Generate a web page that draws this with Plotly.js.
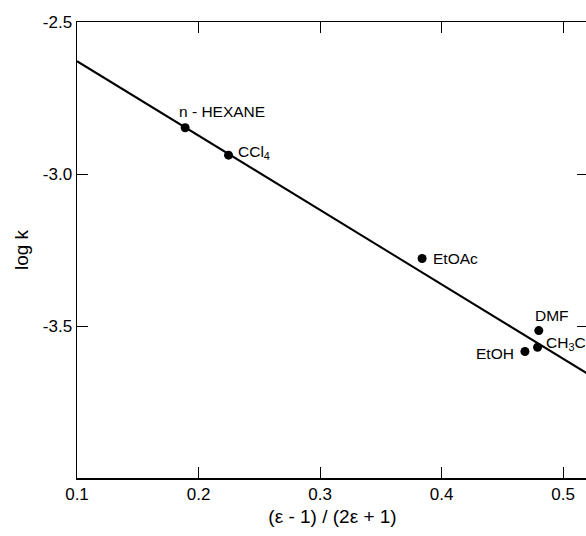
<!DOCTYPE html>
<html><head><meta charset="utf-8">
<script src="https://cdn.plot.ly/plotly-3.0.1.min.js"></script>
<style>html,body{margin:0;padding:0;overflow:hidden;background:#fff;}#chart{width:590px;height:536px;}</style>
</head><body><div id="chart"></div>
<script>
const solvents = ["n - HEXANE", "CCl<sub>4</sub>", "EtOAc", "DMF", "CH<sub>3</sub>CN", "EtOH"];
const polarity = [0.189, 0.2247, 0.384, 0.480, 0.479, 0.4686];
const logk = [-2.848, -2.938, -3.278, -3.515, -3.570, -3.584];
const fitX = [0.1, 0.53];
const fitY = [-2.629, -3.681];
const xTicks = [0.1, 0.2, 0.3, 0.4, 0.5];
const xTickText = ["0.1", "0.2", "0.3", "0.4", "0.5"];
const yTicks = [-3.5, -3.0, -2.5];
const yTickText = ["-3.5", "-3.0", "-2.5"];

const font = "Liberation Sans, Arial, sans-serif";
const labelPos = [
  {ax: -8, ay: -16, xanchor: "left"},
  {ax: 7, ay: -3, xanchor: "left"},
  {ax: 9, ay: 0, xanchor: "left"},
  {ax: -6, ay: -15, xanchor: "left"},
  {ax: 6, ay: -4, xanchor: "left"},
  {ax: -9, ay: 2, xanchor: "right"}
];
const annotations = solvents.map((s, i) => ({
  x: polarity[i], y: logk[i], text: s, showarrow: false,
  xanchor: labelPos[i].xanchor, yanchor: "middle",
  xshift: labelPos[i].ax, yshift: -labelPos[i].ay,
  font: {family: font, size: 15.5, color: "#000"}
}));

const data = [
  {x: fitX, y: fitY, mode: "lines", line: {color: "#000", width: 2}, hoverinfo: "skip"},
  {x: polarity, y: logk, mode: "markers", marker: {color: "#000", size: 9}}
];
const layout = {
  width: 590, height: 536,
  margin: {l: 77, r: 2, t: 22, b: 58},
  showlegend: false,
  paper_bgcolor: "#fff", plot_bgcolor: "#fff",
  font: {family: font, size: 17, color: "#000"},
  xaxis: {
    range: [0.1, 0.5205], tickvals: xTicks, ticktext: xTickText,
    ticks: "inside", ticklen: 11, tickwidth: 1, tickcolor: "#000",
    showline: true, linecolor: "#000", linewidth: 1.5, mirror: "ticks",
    showgrid: false, zeroline: false,
    title: {text: "(ε - 1) / (2ε + 1)", standoff: 7, font: {family: font, size: 19}}
  },
  yaxis: {
    range: [-4.0, -2.5], tickvals: yTicks, ticktext: yTickText,
    ticks: "inside", ticklen: 11, tickwidth: 1, tickcolor: "#000",
    showline: true, linecolor: "#000", linewidth: 1.5, mirror: "ticks",
    showgrid: false, zeroline: false,
    title: {text: "log k", standoff: 9, font: {family: font, size: 19}}
  },
  annotations: annotations
};
Plotly.newPlot("chart", data, layout, {staticPlot: true, displayModeBar: false});
</script></body></html>
